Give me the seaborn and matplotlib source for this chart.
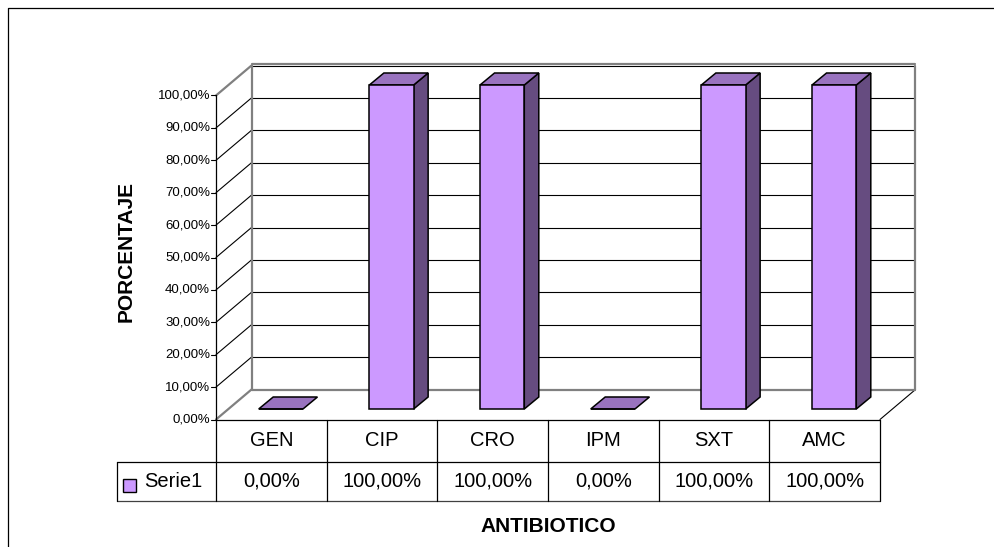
import matplotlib
matplotlib.use("Agg")
import matplotlib.pyplot as plt
import matplotlib.transforms as mtransforms
from matplotlib.patches import Polygon, Rectangle
from matplotlib.lines import Line2D
import seaborn as sns
import pandas as pd

# ---- data ----
antibioticos = ["GEN", "CIP", "CRO", "IPM", "SXT", "AMC"]
porcentajes = [0.0, 100.0, 100.0, 0.0, 100.0, 100.0]
niveles_y = [0, 10, 20, 30, 40, 50, 60, 70, 80, 90, 100]
serie = "Serie1"
titulo_y = "PORCENTAJE"
titulo_x = "ANTIBIOTICO"

# ---- style ----
FRONT = "#CC99FF"
TOP = "#9973BF"
SIDE = "#664C80"
GREY = "#808080"

W, H, DPI = 995, 547, 100
sns.set_theme(style="white")
plt.rcParams["font.family"] = ["Liberation Sans", "DejaVu Sans"]
plt.rcParams["text.color"] = "black"


def pct(v):
    return f"{v:.2f}".replace(".", ",") + "%"


fig = plt.figure(figsize=(W / DPI, H / DPI), dpi=DPI)
fig.patch.set_facecolor("white")

# axes = plane holding the front faces of the bars (pixel box of the plot)
left, right = 225.5, 889.5
base, top = 409.0, 85.0
ax = fig.add_axes([left / W, 1 - base / H, (right - left) / W, (base - top) / H])

df = pd.DataFrame({"antibiotico": antibioticos, "porcentaje": porcentajes})
sns.barplot(data=df, x="antibiotico", y="porcentaje", color=FRONT,
            saturation=1, width=0.4, edgecolor="black", linewidth=1.1,
            ax=ax, zorder=6, clip_on=False)
n = len(antibioticos)
ax.set_xlim(-0.5, n - 0.5)
ax.set_ylim(0, 100)
ax.set_axis_off()

sx = (right - left) / n          # pixels per category
sy = (base - top) / 100.0        # pixels per percent


def off(dx_px, dy_px):
    """pixel shift (screen, y downwards) -> data units"""
    return dx_px / sx, -dy_px / sy


fx, fy = off(-9.5, 10.5)      # front plane (axis + table)
bx, by = off(26.0, -19.5)     # back wall
ddx, ddy = off(14.5, -12.0)   # depth of each bar

kw = dict(clip_on=False)

# back wall gridlines and frame
xl, xr = -0.5 + bx, n - 0.5 + bx
for v in niveles_y[1:]:
    ax.plot([xl, xr], [v + by, v + by], color="black", lw=0.8, zorder=1, **kw)
ax.plot([xl, xr], [100 + by + 0.35, 100 + by + 0.35], color=GREY, lw=1.6, zorder=2, **kw)
ax.plot([xl, xr], [by, by], color=GREY, lw=1.6, zorder=2, **kw)
ax.plot([xl, xl], [by, 100 + by], color=GREY, lw=1.6, zorder=2, **kw)
ax.plot([xr, xr], [by, 100 + by], color=GREY, lw=1.6, zorder=2, **kw)

# left side wall
xf = -0.5 + fx
for v in niveles_y[1:-1]:
    ax.plot([xf, xl], [v + fy, v + by], color="black", lw=0.8, zorder=1, **kw)
ax.plot([xf, xl], [100 + fy, 100 + by], color=GREY, lw=1.6, zorder=2, **kw)
ax.plot([xf, xl], [fy, by], color=GREY, lw=1.6, zorder=2, **kw)

# floor right edge
xfr = n - 0.5 + fx
ax.plot([xfr, xr], [fy, by], color="black", lw=0.8, zorder=1, **kw)

# 3D faces of the bars
for patch in ax.patches:
    x0 = patch.get_x()
    x1 = x0 + patch.get_width()
    v = patch.get_height()
    if v > 0:
        side = [(x1, 0), (x1, v), (x1 + ddx, v + ddy), (x1 + ddx, ddy)]
        ax.add_patch(Polygon(side, closed=True, facecolor=SIDE, edgecolor="black",
                             lw=1.1, zorder=5, **kw))
    topf = [(x0, v), (x1, v), (x1 + ddx, v + ddy), (x0 + ddx, v + ddy)]
    ax.add_patch(Polygon(topf, closed=True, facecolor=TOP, edgecolor="black",
                         lw=1.1, zorder=5, joinstyle="miter", **kw))

# front value axis
ax.plot([xf, xf], [fy, 100 + fy], color="black", lw=0.9, zorder=7, **kw)
for v in niveles_y:
    ax.plot([xf - 5 / sx, xf], [v + fy, v + fy], color="black", lw=0.8, zorder=7, **kw)
    ax.text(xf - 6 / sx, v + fy, pct(v), ha="right", va="center",
            fontsize=9.5, color="black", zorder=7)

# data table under the plot
y_top = fy
y_mid = -(461.7 - base) / sy
y_bot = -(501.0 - base) / sy
x_leg = -0.5 + (117.0 - left) / sx
tl = dict(color="black", lw=0.9, zorder=7, **kw)
ax.plot([xf, xfr], [y_top, y_top], **tl)
ax.plot([x_leg, xfr], [y_mid, y_mid], **tl)
ax.plot([x_leg, xfr], [y_bot, y_bot], color="#404040", lw=0.9, zorder=7, **kw)
ax.plot([x_leg, x_leg], [y_mid, y_bot], **tl)
for k in range(n + 1):
    xb = k - 0.5 + fx
    ax.plot([xb, xb], [y_top, y_bot], **tl)
for k, (name, v) in enumerate(zip(antibioticos, porcentajes)):
    ax.text(k + fx, (y_top + y_mid) / 2, name, ha="center", va="center",
            fontsize=14.5, color="black")
    ax.text(k + fx, (y_mid + y_bot) / 2, pct(v), ha="center", va="center",
            fontsize=14.5, color="black")

# legend key for the series row
ax.add_patch(Rectangle((-0.5 + (123.0 - left) / sx, -(492.0 - base) / sy),
                       13 / sx, 13 / sy, facecolor=FRONT, edgecolor="black",
                       lw=1.0, zorder=7, **kw))
ax.text(-0.5 + (144.0 - left) / sx, (y_mid + y_bot) / 2, serie, ha="left",
        va="center", fontsize=14.5, color="black")

# titles and outer frame in image-pixel coordinates
pix = mtransforms.Affine2D().scale(1 / W, -1 / H).translate(0, 1) + fig.transFigure
fig.text(125.7, 252, titulo_y, transform=pix, rotation=90, ha="center",
         va="center", fontsize=15, fontweight="bold", color="black")
fig.text(548, 526.5, titulo_x, transform=pix, ha="center", va="center",
         fontsize=15, fontweight="bold", color="black")
fig.add_artist(Line2D([8, 8, W + 5], [H + 5, 8, 8], transform=pix,
                      color="black", lw=0.9))

fig.savefig("out.png", dpi=DPI, facecolor="white")
